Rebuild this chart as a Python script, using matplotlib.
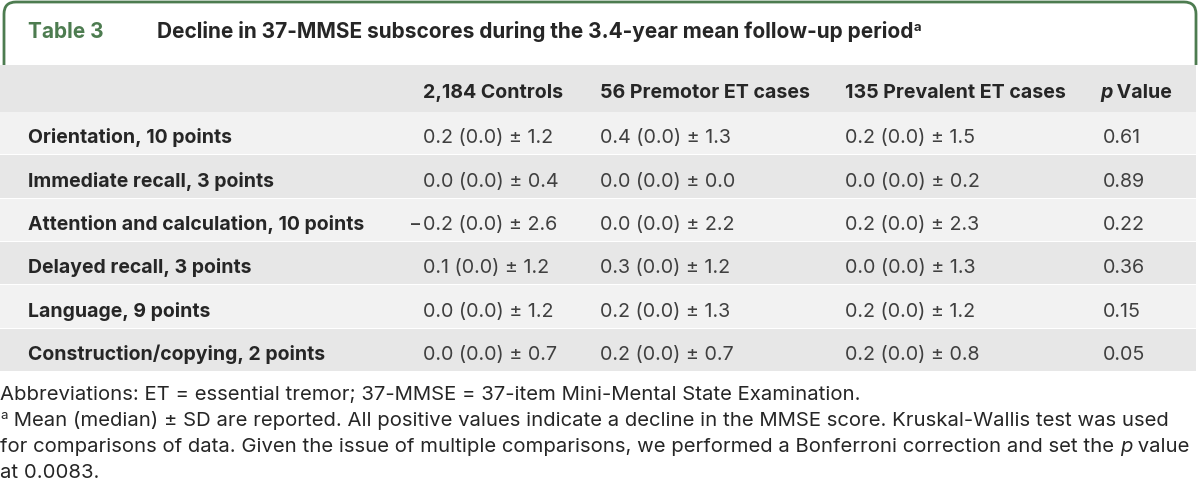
import matplotlib
matplotlib.use("Agg")
import matplotlib.pyplot as plt
from matplotlib.patches import Rectangle, FancyBboxPatch

# table content
table_no = "Table 3"
title = "Decline in 37-MMSE subscores during the 3.4-year mean follow-up period"
groups = ["2,184 Controls", "56 Premotor ET cases", "135 Prevalent ET cases"]
subscores = ["Orientation, 10 points", "Immediate recall, 3 points",
             "Attention and calculation, 10 points", "Delayed recall, 3 points",
             "Language, 9 points", "Construction/copying, 2 points"]
mean_controls = [0.2, 0.0, -0.2, 0.1, 0.0, 0.0]
mean_premotor = [0.4, 0.0, 0.0, 0.3, 0.2, 0.2]
mean_prevalent = [0.2, 0.0, 0.2, 0.0, 0.2, 0.2]
median_controls = [0.0, 0.0, 0.0, 0.0, 0.0, 0.0]
median_premotor = [0.0, 0.0, 0.0, 0.0, 0.0, 0.0]
median_prevalent = [0.0, 0.0, 0.0, 0.0, 0.0, 0.0]
sd_controls = [1.2, 0.4, 2.6, 1.2, 1.2, 0.7]
sd_premotor = [1.3, 0.0, 2.2, 1.2, 1.3, 0.7]
sd_prevalent = [1.5, 0.2, 2.3, 1.3, 1.2, 0.8]
p_values = ["0.61", "0.89", "0.22", "0.36", "0.15", "0.05"]

foot1 = "Abbreviations: ET = essential tremor; 37-MMSE = 37-item Mini-Mental State Examination."
foot2 = " Mean (median) \u00b1 SD are reported. All positive values indicate a decline in the MMSE score. Kruskal-Wallis test was used"
foot3a = "for comparisons of data. Given the issue of multiple comparisons, we performed a Bonferroni correction and set the "
foot3b = " value"
foot4 = "at 0.0083."

W, H = 1200, 502
fig = plt.figure(figsize=(W / 100, H / 100), dpi=100)
ax = fig.add_axes([0, 0, 1, 1])
ax.set_xlim(0, W)
ax.set_ylim(H, 0)
ax.axis("off")

plt.rcParams['font.family'] = ['Inter', 'DejaVu Sans']
green = "#4d7c50"
dark = "#262626"
val_col = "#404040"

fig.canvas.draw()
renderer = fig.canvas.get_renderer()


def put_seq(x, y, parts, **kw):
    # draw text pieces left to right on one baseline
    for s, extra in parts:
        props = dict(kw)
        props.update(extra)
        dy = props.pop("dy", 0)
        t = ax.text(x, y + dy, s, ha="left", va="baseline", **props)
        bb = t.get_window_extent(renderer=renderer)
        x += bb.width
    return x


# green frame round the title
frame = FancyBboxPatch((4, 3), W - 8, 90, boxstyle="round,pad=0,rounding_size=12",
                       fill=False, edgecolor=green, linewidth=2, zorder=1)
ax.add_patch(frame)

# table bands
header_top, header_h, row_h = 66, 47, 43.3
ax.add_patch(Rectangle((0, header_top), W, header_h + row_h * len(subscores),
                       facecolor="white", edgecolor="none", zorder=2))
ax.add_patch(Rectangle((0, header_top), W - 4, header_h, facecolor="#e6e6e6",
                       edgecolor="none", zorder=3))
for i in range(len(subscores)):
    y0 = header_top + header_h + i * row_h
    c = "#f2f2f2" if i % 2 == 0 else "#e7e7e7"
    ax.add_patch(Rectangle((0, y0), W - 4, row_h - 1, facecolor=c, edgecolor="none", zorder=3))

# title line
ax.text(28, 38, table_no, color=green, fontsize=15, fontweight="bold", va="baseline", zorder=5)
put_seq(157, 38, [(title, {}), ("a", {"fontsize": 9.5, "dy": -7})],
        color=dark, fontsize=15, fontweight="bold", zorder=5)

# header
col_x = [423, 600, 845, 1103]
hy = header_top + 32
for g, x in zip(groups, col_x):
    ax.text(x, hy, g, fontsize=14.1, fontweight="bold", color=dark, va="baseline", zorder=5)
put_seq(col_x[3] - 3, hy, [("p", {"fontstyle": "italic"}), (" Value", {})],
        fontsize=14.1, fontweight="bold", color=dark, zorder=5)

# rows
means = [mean_controls, mean_premotor, mean_prevalent]
medians = [median_controls, median_premotor, median_prevalent]
sds = [sd_controls, sd_premotor, sd_prevalent]
for i, name in enumerate(subscores):
    y = header_top + header_h + i * row_h + 30.5
    ax.text(28, y, name, fontsize=14, fontweight="bold", color=dark, va="baseline", zorder=5)
    for j, x in enumerate(col_x[:3]):
        m = means[j][i]
        s = "%.1f (%.1f) \u00b1 %.1f" % (abs(m), medians[j][i], sds[j][i])
        ax.text(x, y, s, fontsize=14.2, color=val_col, va="baseline", zorder=5)
        if m < 0:
            ax.text(x - 1, y, "\u2212", fontsize=14.2, color=val_col, va="baseline",
                    ha="right", zorder=5)
    ax.text(col_x[3], y, p_values[i], fontsize=14.2, color=val_col, va="baseline", zorder=5)

# footnotes
ffs = 14.6
ax.text(0, 400, foot1, fontsize=ffs, color=dark, va="baseline")
put_seq(0, 426, [("a", {"fontsize": 9.5, "dy": -7}), (foot2, {})], fontsize=ffs, color=dark)
put_seq(0, 452, [(foot3a, {}), ("p", {"fontstyle": "italic"}), (foot3b, {})],
        fontsize=ffs, color=dark)
ax.text(0, 478, foot4, fontsize=ffs, color=dark, va="baseline")

fig.savefig("out.png", dpi=100)
